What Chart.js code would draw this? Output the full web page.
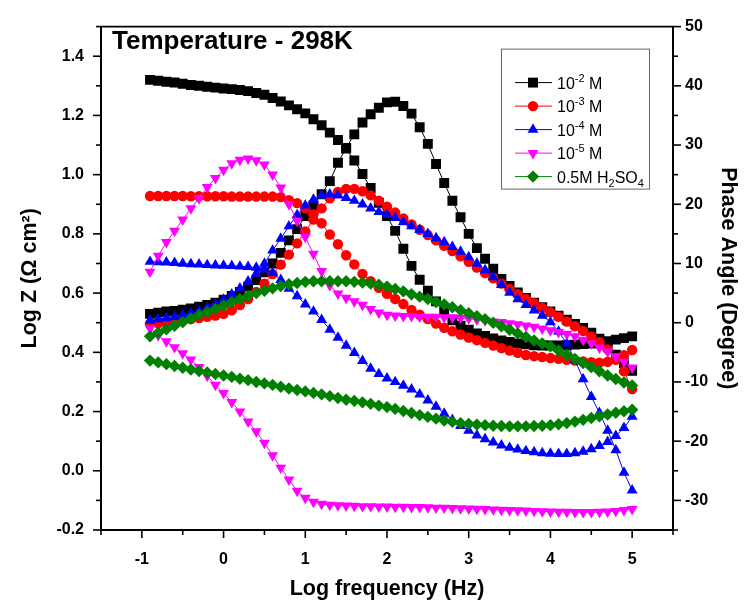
<!DOCTYPE html>
<html>
<head>
<meta charset="utf-8">
<title>Bode plot - 298K</title>
<script src="https://cdn.jsdelivr.net/npm/chart.js@4.4.1/dist/chart.umd.min.js"></script>
<style>
    html, body { margin: 0; padding: 0; background: #ffffff; }
    canvas { display: block; }
</style>
</head>
<body>
<canvas id="bodeChart" width="745" height="603"></canvas>
<script>
// Data (log f, 10 points per decade)
const logFreq = [
    -0.9, -0.8, -0.7, -0.6, -0.5, -0.4, -0.3, -0.2, -0.1, 0.0,
    0.1, 0.2, 0.3, 0.4, 0.5, 0.6, 0.7, 0.8, 0.9, 1.0,
    1.1, 1.2, 1.3, 1.4, 1.5, 1.6, 1.7, 1.8, 1.9, 2.0,
    2.1, 2.2, 2.3, 2.4, 2.5, 2.6, 2.7, 2.8, 2.9, 3.0,
    3.1, 3.2, 3.3, 3.4, 3.5, 3.6, 3.7, 3.8, 3.9, 4.0,
    4.1, 4.2, 4.3, 4.4, 4.5, 4.6, 4.7, 4.8, 4.9, 5.0
];

// Log Z (left axis)
const logZ_1e2 = [
    1.320, 1.317, 1.314, 1.311, 1.307, 1.303, 1.300, 1.297, 1.294, 1.291,
    1.289, 1.286, 1.282, 1.276, 1.270, 1.259, 1.247, 1.234, 1.221, 1.207,
    1.187, 1.167, 1.142, 1.117, 1.088, 1.048, 1.002, 0.955, 0.905, 0.860,
    0.810, 0.750, 0.692, 0.645, 0.608, 0.572, 0.538, 0.508, 0.490, 0.476,
    0.464, 0.455, 0.447, 0.440, 0.435, 0.430, 0.427, 0.424, 0.423, 0.423,
    0.423, 0.424, 0.426, 0.428, 0.430, 0.434, 0.438, 0.443, 0.448, 0.454
];
const logZ_1e3 = [
    0.928, 0.928, 0.928, 0.928, 0.928, 0.927, 0.927, 0.927, 0.927, 0.927,
    0.926, 0.926, 0.926, 0.926, 0.926, 0.926, 0.924, 0.914, 0.904, 0.886,
    0.866, 0.836, 0.798, 0.765, 0.728, 0.697, 0.665, 0.640, 0.618, 0.598,
    0.580, 0.563, 0.543, 0.527, 0.512, 0.497, 0.483, 0.471, 0.460, 0.450,
    0.441, 0.432, 0.423, 0.414, 0.406, 0.398, 0.391, 0.387, 0.384, 0.381,
    0.378, 0.375, 0.372, 0.369, 0.367, 0.365, 0.368, 0.375, 0.390, 0.408
];
const logZ_1e4 = [
    0.706, 0.705, 0.704, 0.702, 0.700, 0.698, 0.697, 0.695, 0.694, 0.693,
    0.692, 0.690, 0.689, 0.686, 0.680, 0.668, 0.645, 0.615, 0.590, 0.562,
    0.538, 0.510, 0.477, 0.450, 0.423, 0.398, 0.371, 0.345, 0.327, 0.312,
    0.300, 0.288, 0.275, 0.258, 0.238, 0.217, 0.193, 0.172, 0.152, 0.136,
    0.120, 0.107, 0.096, 0.086, 0.078, 0.072, 0.067, 0.063, 0.060, 0.058,
    0.057, 0.057, 0.060, 0.065, 0.073, 0.084, 0.098, 0.118, 0.145, 0.183
];
const logZ_1e5 = [
    0.481, 0.457, 0.437, 0.417, 0.396, 0.375, 0.350, 0.320, 0.290, 0.262,
    0.232, 0.200, 0.166, 0.133, 0.094, 0.052, 0.010, -0.030, -0.068, -0.092,
    -0.105, -0.112, -0.115, -0.117, -0.118, -0.119, -0.120, -0.120, -0.121, -0.121,
    -0.122, -0.122, -0.123, -0.123, -0.124, -0.125, -0.125, -0.126, -0.127, -0.128,
    -0.129, -0.130, -0.131, -0.132, -0.133, -0.134, -0.135, -0.136, -0.137, -0.138,
    -0.139, -0.139, -0.140, -0.140, -0.140, -0.139, -0.138, -0.136, -0.133, -0.130
];
const logZ_acid = [
    0.372, 0.366, 0.360, 0.354, 0.348, 0.342, 0.337, 0.332, 0.327, 0.322,
    0.317, 0.311, 0.306, 0.300, 0.295, 0.290, 0.284, 0.278, 0.273, 0.268,
    0.263, 0.258, 0.252, 0.246, 0.240, 0.236, 0.231, 0.226, 0.220, 0.215,
    0.209, 0.202, 0.195, 0.188, 0.182, 0.176, 0.170, 0.165, 0.161, 0.158,
    0.156, 0.154, 0.152, 0.151, 0.150, 0.150, 0.150, 0.151, 0.152, 0.154,
    0.157, 0.161, 0.166, 0.172, 0.178, 0.184, 0.190, 0.196, 0.201, 0.206
];

// Phase angle in degree (right axis)
const phase_1e2 = [
    1.5, 1.7, 1.9, 2.0, 2.2, 2.4, 2.7, 3.0, 3.4, 3.9,
    4.5, 5.2, 6.1, 7.2, 8.5, 10.0, 11.8, 13.9, 15.8, 18.0,
    19.8, 21.7, 23.9, 27.0, 29.5, 31.8, 33.8, 35.2, 36.3, 37.2,
    37.3, 36.6, 35.3, 33.0, 30.2, 26.8, 23.6, 20.6, 17.8, 15.0,
    12.6, 10.8, 9.1, 7.4, 6.2, 5.1, 4.2, 3.4, 2.6, 1.9,
    1.2, 0.5, -0.2, -0.9, -1.7, -2.7, -4.0, -5.4, -6.8, -8.1
];
const phase_1e3 = [
    -0.2, -0.1, 0.0, 0.2, 0.4, 0.6, 0.8, 1.0, 1.2, 1.5,
    2.1, 3.0, 4.0, 5.2, 6.6, 8.2, 9.8, 11.5, 13.4, 15.4,
    17.4, 19.3, 21.0, 22.1, 22.6, 22.6, 22.2, 21.5, 20.6, 19.6,
    18.6, 17.6, 16.6, 15.7, 14.8, 13.9, 13.0, 12.1, 11.2, 10.3,
    9.3, 8.4, 7.5, 6.6, 5.7, 4.8, 4.0, 3.3, 2.5, 1.8,
    1.0, 0.2, -0.6, -1.4, -2.3, -3.3, -4.5, -6.0, -8.2, -11.2
];
const phase_1e4 = [
    0.4, 0.6, 0.8, 1.0, 1.3, 1.6, 2.0, 2.5, 3.1, 3.9,
    4.8, 5.8, 7.0, 8.3, 10.0, 12.2, 14.2, 16.3, 18.2, 19.8,
    20.8, 21.5, 21.7, 21.5, 21.1, 20.6, 20.0, 19.3, 18.7, 18.2,
    17.7, 17.0, 16.3, 15.7, 15.0, 14.3, 13.6, 12.8, 12.0, 11.1,
    10.0, 8.9, 7.7, 6.4, 5.1, 4.0, 3.0, 2.1, 1.2, 0.1,
    -1.5, -3.5, -6.3, -9.5, -12.5, -15.2, -18.2, -21.5, -25.3, -28.3
];
const phase_1e5 = [
    8.6, 11.3, 13.6, 15.5, 17.4, 19.3, 21.0, 22.9, 24.4, 25.8,
    26.9, 27.5, 27.7, 27.4, 26.7, 25.0, 22.8, 20.0, 17.2, 14.5,
    11.6, 8.7, 6.3, 4.9, 4.2, 3.6, 3.0, 2.3, 1.7, 1.3,
    1.2, 1.1, 1.1, 1.0, 1.0, 1.0, 0.9, 0.9, 0.8, 0.7,
    0.5, 0.4, 0.2, 0.1, -0.1, -0.3, -0.5, -0.7, -1.0, -1.3,
    -1.6, -1.9, -2.3, -2.9, -3.5, -4.2, -4.9, -5.7, -6.6, -7.6
];
const phase_acid = [
    -2.3, -1.7, -1.1, -0.5, 0.1, 0.7, 1.3, 1.8, 2.3, 2.9,
    3.5, 4.0, 4.5, 5.0, 5.4, 5.8, 6.2, 6.5, 6.7, 6.9,
    7.0, 7.0, 7.0, 7.0, 7.0, 6.9, 6.8, 6.6, 6.4, 6.1,
    5.7, 5.3, 4.8, 4.4, 4.0, 3.5, 3.1, 2.6, 2.1, 1.6,
    1.1, 0.6, 0.0, -0.6, -1.2, -1.8, -2.4, -3.0, -3.5, -4.0,
    -4.7, -5.4, -6.1, -6.8, -7.5, -8.2, -8.9, -9.5, -10.1, -10.6
];

// Tick labels
const xTickValues = [-1, 0, 1, 2, 3, 4, 5];
const logZTickValues = [-0.2, 0.0, 0.2, 0.4, 0.6, 0.8, 1.0, 1.2, 1.4];
const phaseTickValues = [-30, -20, -10, 0, 10, 20, 30, 40, 50];

// Legend text: [text, 'sup' | 'sub' | '']
const seriesLabels = [
    [['10', ''], ['-2', 'sup'], [' M', '']],
    [['10', ''], ['-3', 'sup'], [' M', '']],
    [['10', ''], ['-4', 'sup'], [' M', '']],
    [['10', ''], ['-5', 'sup'], [' M', '']],
    [['0.5M H', ''], ['2', 'sub'], ['SO', ''], ['4', 'sub']]
];

// Styles
const FONT = '"Liberation Sans", Arial, sans-serif';
const series = [
    { z: logZ_1e2, ph: phase_1e2, color: '#000000', style: 'rect', radius: 7, rotation: 0 },
    { z: logZ_1e3, ph: phase_1e3, color: '#ff0000', style: 'circle', radius: 5.2, rotation: 0 },
    { z: logZ_1e4, ph: phase_1e4, color: '#0000ff', style: 'triangle', radius: 6.3, rotation: 0 },
    { z: logZ_1e5, ph: phase_1e5, color: '#ff00ff', style: 'triangle', radius: 6.3, rotation: 180 },
    { z: logZ_acid, ph: phase_acid, color: '#008000', style: 'rectRot', radius: 6.2, rotation: 0 }
];

const labelText = parts => parts.map(p => p[0]).join('');

// Build datasets: one Log Z and one phase curve per solution
const datasets = [];
series.forEach((s, i) => {
    const common = {
        label: labelText(seriesLabels[i]),
        borderColor: s.color,
        backgroundColor: s.color,
        borderWidth: 1,
        pointStyle: s.style,
        pointRadius: s.radius,
        pointRotation: s.rotation,
        pointBorderWidth: 0,
        pointHoverRadius: s.radius,
        tension: 0,
        order: series.length - i
    };
    datasets.push(Object.assign({}, common, {
        data: logFreq.map((f, k) => ({ x: f, y: s.z[k] })),
        yAxisID: 'y'
    }));
    datasets.push(Object.assign({}, common, {
        data: logFreq.map((f, k) => ({ x: f, y: s.ph[k] })),
        yAxisID: 'y1'
    }));
});

// Draw tick marks (major + minor), the top frame line, the title and the legend
const decorations = {
    id: 'decorations',
    afterDatasetsDraw(chart) {
        const { ctx, chartArea: a, scales } = chart;
        ctx.save();
        ctx.strokeStyle = '#000';
        ctx.lineWidth = 1.6;

        const mark = (x1, y1, x2, y2) => {
            ctx.beginPath();
            ctx.moveTo(x1, y1);
            ctx.lineTo(x2, y2);
            ctx.stroke();
        };

        // top frame
        mark(a.left - 1, a.top, a.right + 1, a.top);

        const withMinor = (values, scale) => {
            const step = values[1] - values[0];
            const out = [];
            const first = values[0] - step / 2;
            for (let v = first; v <= scale.max + 1e-9; v += step / 2) {
                if (v < scale.min - 1e-9) continue;
                const major = values.some(m => Math.abs(m - v) < 1e-6);
                out.push({ v, major });
            }
            return out;
        };

        withMinor(xTickValues, scales.x).forEach(t => {
            const px = scales.x.getPixelForValue(t.v);
            mark(px, a.bottom, px, a.bottom + (t.major ? 8 : 5));
        });
        withMinor(logZTickValues, scales.y).forEach(t => {
            const py = scales.y.getPixelForValue(t.v);
            mark(a.left, py, a.left - (t.major ? 8 : 5), py);
        });
        withMinor(phaseTickValues, scales.y1).forEach(t => {
            const py = scales.y1.getPixelForValue(t.v);
            mark(a.right, py, a.right + (t.major ? 8 : 5), py);
        });

        // title inside the plot
        ctx.fillStyle = '#000';
        ctx.font = 'bold 26px ' + FONT;
        ctx.textBaseline = 'alphabetic';
        ctx.textAlign = 'left';
        ctx.fillText('Temperature - 298K', a.left + 11, a.top + 22);

        // legend box
        const box = { left: a.right - 172, top: a.top + 22, width: 148, height: 140 };
        ctx.fillStyle = '#fff';
        ctx.fillRect(box.left, box.top, box.width, box.height);
        ctx.strokeStyle = '#666';
        ctx.lineWidth = 1;
        ctx.strokeRect(box.left + 0.5, box.top + 0.5, box.width, box.height);

        series.forEach((s, i) => {
            const y = box.top + 34 + i * 23.5;
            ctx.strokeStyle = s.color;
            ctx.lineWidth = 1;
            mark(box.left + 14, y, box.left + 51, y);
            ctx.fillStyle = s.color;
            Chart.helpers.drawPoint(ctx, {
                pointStyle: s.style,
                radius: s.radius,
                rotation: s.rotation,
                borderWidth: 0
            }, box.left + 32, y);

            let x = box.left + 56;
            ctx.fillStyle = '#000';
            seriesLabels[i].forEach(([text, mode]) => {
                if (mode === 'sup') {
                    ctx.font = '11px ' + FONT;
                    ctx.fillText(text, x, y - 1);
                } else if (mode === 'sub') {
                    ctx.font = '11px ' + FONT;
                    ctx.fillText(text, x, y + 10);
                } else {
                    ctx.font = '16px ' + FONT;
                    ctx.fillText(text, x, y + 6);
                }
                x += ctx.measureText(text).width;
            });
        });
        ctx.restore();
    }
};

const tickFont = { family: FONT, size: 16, weight: 'bold' };
const titleFont = { family: FONT, size: 21.5, weight: 'bold' };

const bodeChart = new Chart(document.getElementById('bodeChart').getContext('2d'), {
    type: 'line',
    data: { datasets },
    options: {
        responsive: false,
        animation: false,
        devicePixelRatio: 1,
        layout: { padding: { top: 16, left: 0, right: 0, bottom: 0 } },
        plugins: {
            legend: { display: false },
            tooltip: { enabled: false }
        },
        scales: {
            x: {
                type: 'linear',
                position: 'bottom',
                min: -1.5,
                max: 5.5,
                grid: { display: false, drawTicks: false },
                border: { display: true, color: '#000', width: 2 },
                afterBuildTicks: scale => { scale.ticks = xTickValues.map(v => ({ value: v })); },
                afterFit: scale => { scale.height = 73; },
                ticks: {
                    font: tickFont,
                    color: '#000',
                    padding: 20,
                    maxRotation: 0,
                    callback: v => String(v)
                },
                title: {
                    display: true,
                    text: 'Log frequency (Hz)',
                    font: titleFont,
                    color: '#000',
                    padding: { top: 0, bottom: 1 }
                }
            },
            y: {
                type: 'linear',
                position: 'left',
                min: -0.2,
                max: 1.5,
                grid: { display: false, drawTicks: false },
                border: { display: true, color: '#000', width: 2 },
                afterBuildTicks: scale => { scale.ticks = logZTickValues.map(v => ({ value: v })); },
                afterFit: scale => { scale.width = 101; },
                ticks: {
                    font: tickFont,
                    color: '#000',
                    padding: 17,
                    callback: v => Number(v).toFixed(1)
                },
                title: {
                    display: true,
                    text: 'Log Z (\u03A9 cm\u00B2)',
                    font: titleFont,
                    color: '#000',
                    padding: { top: 17, bottom: 0 }
                }
            },
            y1: {
                type: 'linear',
                position: 'right',
                min: -35,
                max: 50,
                grid: { display: false, drawTicks: false },
                border: { display: true, color: '#000', width: 2 },
                afterBuildTicks: scale => { scale.ticks = phaseTickValues.map(v => ({ value: v })); },
                afterFit: scale => { scale.width = 72; },
                ticks: {
                    font: tickFont,
                    color: '#000',
                    padding: 12,
                    callback: v => String(v)
                },
                title: {
                    display: true,
                    text: 'Phase Angle (Degree)',
                    font: titleFont,
                    color: '#000',
                    padding: { top: 4, bottom: 0 }
                }
            }
        }
    },
    plugins: [decorations]
});
</script>
</body>
</html>
